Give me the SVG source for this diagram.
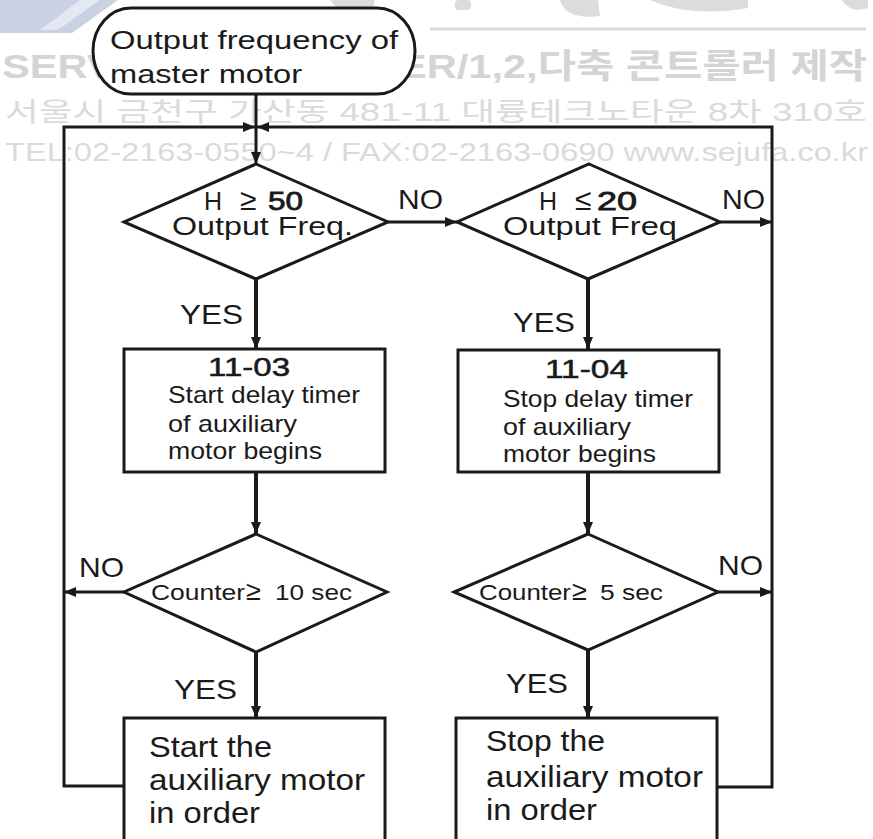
<svg xmlns="http://www.w3.org/2000/svg" width="873" height="839" viewBox="0 0 873 839">
<style>
.t{font-family:"Liberation Sans",Arial,sans-serif;fill:#1a1a1a;}
.wm{font-family:"Liberation Sans","Noto Sans CJK KR",sans-serif;fill:#dadada;}
.shape{fill:none;stroke:#1a1a1a;stroke-width:3;}
.c{fill:none;stroke:#1a1a1a;stroke-width:3;}
.c4{fill:none;stroke:#1a1a1a;stroke-width:4;}
.blob{fill:#dcdcdc;}
</style>
<defs>
<marker id="ah" markerUnits="userSpaceOnUse" markerWidth="13" markerHeight="10" refX="12" refY="5" orient="auto">
<path d="M0,0 L12,5 L0,10 z" fill="#1a1a1a"/>
</marker>
</defs>
<rect width="873" height="839" fill="#ffffff"/>
<g id="watermark">
<polygon points="0,0 118,0 72,33 0,33" fill="#c9d1e2"/>
<polygon points="80,0 100,0 58,30 40,30" fill="#e3e8f1"/>
<path class="blob" d="M330,0 Q345,22 372,14 L375,0 z"/>
<rect class="blob" x="455" y="0" width="16" height="10" rx="4"/>
<path class="blob" d="M560,0 Q565,20 600,16 L598,0 z"/>
<path class="blob" d="M650,0 Q690,18 748,8 L748,0 z"/>
<path class="blob" d="M842,0 Q850,14 868,8 L868,0 z"/>
<line x1="430" y1="29" x2="866" y2="29" stroke="#dcdcdc" stroke-width="3"/>
<text class="wm" x="2" y="78" font-size="34" font-weight="bold" textLength="865" lengthAdjust="spacingAndGlyphs" style="fill:#d4d4d4">SERVO/HMI/INVERTER/1,2,다축 콘트롤러 제작</text>
<text class="wm" x="5" y="121" font-size="26" textLength="862" lengthAdjust="spacingAndGlyphs">서울시 금천구 가산동 481-11 대륭테크노타운 8차 310호</text>
<text class="wm" x="5" y="161" font-size="25" textLength="863" lengthAdjust="spacingAndGlyphs">TEL:02-2163-0550~4 / FAX:02-2163-0690 www.sejufa.co.kr</text>
</g>
<g id="connectors">
<path class="c" d="M256,94 V164" marker-end="url(#ah)"/>
<path class="c" d="M124,786 H64 V127 H255" marker-end="url(#ah)"/>
<path class="c" d="M717,787 H772 V127 H257" marker-end="url(#ah)"/>
<path class="c" d="M388,222 H457" marker-end="url(#ah)"/>
<path class="c" d="M720,222 H772" marker-end="url(#ah)"/>
<path class="c4" d="M256,279 V349" marker-end="url(#ah)"/>
<path class="c4" d="M588,279 V349" marker-end="url(#ah)"/>
<path class="c4" d="M256,472 V534" marker-end="url(#ah)"/>
<path class="c4" d="M588,472 V534" marker-end="url(#ah)"/>
<path class="c" d="M124,592 H64" marker-end="url(#ah)"/>
<path class="c" d="M718,592 H772" marker-end="url(#ah)"/>
<path class="c4" d="M256,652 V718" marker-end="url(#ah)"/>
<path class="c4" d="M588,650 V718" marker-end="url(#ah)"/>
<text class="t" x="398" y="209" font-size="28" textLength="45" lengthAdjust="spacingAndGlyphs">NO</text>
<text class="t" x="722" y="209" font-size="28" textLength="43" lengthAdjust="spacingAndGlyphs">NO</text>
<text class="t" x="79" y="577" font-size="28" textLength="45" lengthAdjust="spacingAndGlyphs">NO</text>
<text class="t" x="718" y="575" font-size="28" textLength="45" lengthAdjust="spacingAndGlyphs">NO</text>
<text class="t" x="180" y="324" font-size="27" textLength="63" lengthAdjust="spacingAndGlyphs">YES</text>
<text class="t" x="513" y="332" font-size="27" textLength="62" lengthAdjust="spacingAndGlyphs">YES</text>
<text class="t" x="174" y="699" font-size="27" textLength="63" lengthAdjust="spacingAndGlyphs">YES</text>
<text class="t" x="506" y="693" font-size="27" textLength="62" lengthAdjust="spacingAndGlyphs">YES</text>
</g>
<g id="start">
<rect class="shape" x="93" y="8" width="322" height="86" rx="38" ry="43" style="fill:#ffffff"/>
<text class="t" x="110" y="49" font-size="26" textLength="288" lengthAdjust="spacingAndGlyphs">Output frequency of</text>
<text class="t" x="110" y="83" font-size="26" textLength="192" lengthAdjust="spacingAndGlyphs">master motor</text>
</g>
<g id="decision1">
<polygon class="shape" points="256,164 388,222 256,279 124,222"/>
<text class="t" y="210" font-size="25"><tspan x="204">H</tspan><tspan x="240" font-size="30">≥</tspan><tspan x="268" textLength="35" lengthAdjust="spacingAndGlyphs" style="stroke:#1a1a1a;stroke-width:0.8">50</tspan></text>
<text class="t" x="172" y="235" font-size="25" textLength="181" lengthAdjust="spacingAndGlyphs">Output Freq.</text>
</g>
<g id="decision2">
<polygon class="shape" points="589,164 720,222 588,279 457,222"/>
<text class="t" y="210" font-size="25"><tspan x="539">H</tspan><tspan x="575" font-size="30">≤</tspan><tspan x="597" textLength="40" lengthAdjust="spacingAndGlyphs" style="stroke:#1a1a1a;stroke-width:0.8">20</tspan></text>
<text class="t" x="503" y="235" font-size="25" textLength="174" lengthAdjust="spacingAndGlyphs">Output Freq</text>
</g>
<g id="timer1">
<rect class="shape" x="124" y="349" width="261" height="123"/>
<text class="t" x="208" y="376" font-size="25" textLength="82" lengthAdjust="spacingAndGlyphs" style="stroke:#1a1a1a;stroke-width:0.5">11-03</text>
<text class="t" x="168" y="403" font-size="24" textLength="192" lengthAdjust="spacingAndGlyphs">Start delay timer</text>
<text class="t" x="168" y="432" font-size="24" textLength="129" lengthAdjust="spacingAndGlyphs">of auxiliary</text>
<text class="t" x="168" y="459" font-size="24" textLength="154" lengthAdjust="spacingAndGlyphs">motor begins</text>
</g>
<g id="timer2">
<rect class="shape" x="458" y="350" width="261" height="122"/>
<text class="t" x="545" y="378" font-size="25" textLength="83" lengthAdjust="spacingAndGlyphs" style="stroke:#1a1a1a;stroke-width:0.5">11-04</text>
<text class="t" x="503" y="407" font-size="24" textLength="190" lengthAdjust="spacingAndGlyphs">Stop delay timer</text>
<text class="t" x="503" y="435" font-size="24" textLength="128" lengthAdjust="spacingAndGlyphs">of auxiliary</text>
<text class="t" x="503" y="462" font-size="24" textLength="153" lengthAdjust="spacingAndGlyphs">motor begins</text>
</g>
<g id="counter1">
<polygon class="shape" points="256,534 387,592 256,652 124,592"/>
<text class="t" y="600" font-size="22"><tspan x="151" textLength="94" lengthAdjust="spacingAndGlyphs">Counter</tspan><tspan x="246" font-size="27">≥</tspan><tspan x="275" textLength="77" lengthAdjust="spacingAndGlyphs">10 sec</tspan></text>
</g>
<g id="counter2">
<polygon class="shape" points="588,534 718,592 588,650 454,592"/>
<text class="t" y="600" font-size="22"><tspan x="479" textLength="92" lengthAdjust="spacingAndGlyphs">Counter</tspan><tspan x="572" font-size="27">≥</tspan><tspan x="600" textLength="63" lengthAdjust="spacingAndGlyphs">5 sec</tspan></text>
</g>
<g id="start-aux">
<rect class="shape" x="124" y="718" width="261" height="140"/>
<text class="t" x="149" y="757" font-size="30" textLength="123" lengthAdjust="spacingAndGlyphs">Start the</text>
<text class="t" x="149" y="790" font-size="30" textLength="216" lengthAdjust="spacingAndGlyphs">auxiliary motor</text>
<text class="t" x="149" y="823" font-size="30" textLength="111" lengthAdjust="spacingAndGlyphs">in order</text>
</g>
<g id="stop-aux">
<rect class="shape" x="456" y="718" width="261" height="140"/>
<text class="t" x="486" y="751" font-size="30" textLength="119" lengthAdjust="spacingAndGlyphs">Stop the</text>
<text class="t" x="486" y="787" font-size="30" textLength="217" lengthAdjust="spacingAndGlyphs">auxiliary motor</text>
<text class="t" x="486" y="820" font-size="30" textLength="111" lengthAdjust="spacingAndGlyphs">in order</text>
</g>
</svg>
